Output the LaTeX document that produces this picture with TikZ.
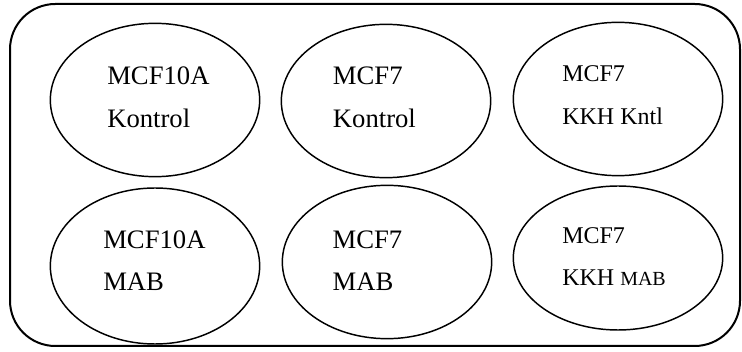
\documentclass[tikz,border=0pt]{standalone}
\usepackage{fontspec}
\setmainfont{Liberation Serif}
\usepackage{tikz}
\usetikzlibrary{shapes.geometric}

\begin{document}
\begin{tikzpicture}[
    x=0.75pt, y=-0.75pt,
    frame/.style = {
        draw, line width=1.5pt, rounded corners=34pt
    },
    well/.style = {
        draw, ellipse, line width=1.1pt,
        inner sep=0pt, minimum width=157pt, minimum height=115pt
    },
    lbl/.style = {
        anchor=west, align=left, inner sep=0pt,
        font=\fontsize{20}{32}\selectfont
    },
    slbl/.style = {
        anchor=west, align=left, inner sep=0pt,
        font=\fontsize{18}{32}\selectfont
    }
]
\useasboundingbox (0,0) rectangle (742,352);

%% ---- PLATE ----
\draw[frame] (10,4) rectangle (740,346);

%% ---- WELLS ----
\node[well] (w1) at (155,100) {};
\node[well] (w2) at (386,101) {};
\node[well] (w3) at (618,99)  {};
\node[well, minimum height=117pt] (w4) at (155,266) {};
\node[well] (w5) at (387,262) {};
\node[well, minimum height=108pt] (w6) at (618,258) {};

%% ---- LABELS ----
\node[lbl]  (t1) at ([xshift=-36pt, yshift=2pt]w1.center) {MCF10A\\Kontrol};
\node[lbl]  (t2) at ([xshift=-40pt, yshift=3pt]w2.center) {MCF7\\Kontrol};
\node[slbl] (t3) at ([xshift=-42pt, yshift=3pt]w3.center) {MCF7\\KKH Kntl};
\node[lbl]  (t4) at ([xshift=-39pt, yshift=4pt]w4.center) {MCF10A\\MAB};
\node[lbl]  (t5) at ([xshift=-41pt, yshift=1pt]w5.center) {MCF7\\MAB};
\node[slbl] (t6) at ([xshift=-42pt, yshift=1pt]w6.center)
    {MCF7\\KKH {\fontsize{15}{32}\selectfont MAB}};

\end{tikzpicture}
\end{document}
